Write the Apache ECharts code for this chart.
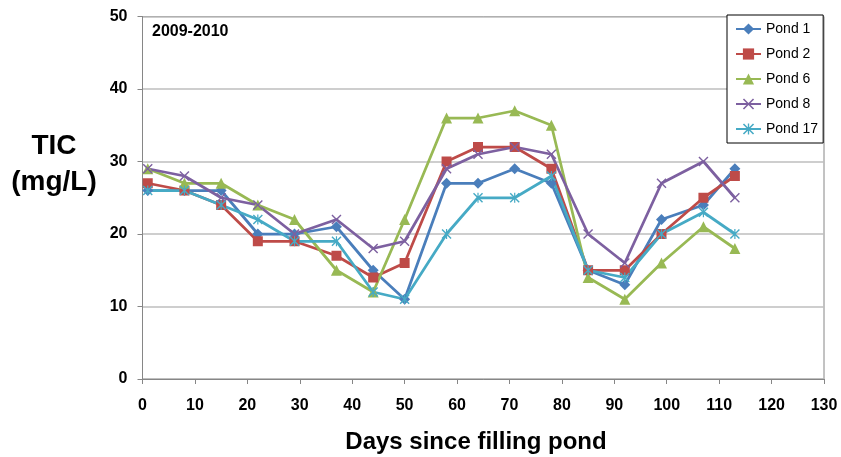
<!DOCTYPE html>
<html>
<head>
<meta charset="utf-8">
<script src="https://cdn.jsdelivr.net/npm/echarts@6/dist/echarts.min.js"></script>
<style>
html,body{margin:0;padding:0;background:#fff;}
#chart{width:841px;height:457px;}
</style>
</head>
<body>
<div id="chart"></div>
<script>
var days = [1, 8, 15, 22, 29, 37, 44, 50, 58, 64, 71, 78, 85, 92, 99, 107, 113];
var pond1  = [26, 26, 26, 20, 20, 21, 15, 11, 27, 27, 29, 27, 15, 13, 22, 24, 29];
var pond2  = [27, 26, 24, 19, 19, 17, 14, 16, 30, 32, 32, 29, 15, 15, 20, 25, 28];
var pond6  = [29, 27, 27, 24, 22, 15, 12, 22, 36, 36, 37, 35, 14, 11, 16, 21, 18];
var pond8  = [29, 28, 25, 24, 20, 22, 18, 19, 29, 31, 32, 31, 20, 16, 27, 30, 25];
var pond17 = [26, 26, 24, 22, 19, 19, 12, 11, 20, 25, 25, 28, 15, 14, 20, 23, 20];
var seriesNames = ['Pond 1', 'Pond 2', 'Pond 6', 'Pond 8', 'Pond 17'];
var yAxisTitle = 'TIC\n(mg/L)';
var xAxisTitle = 'Days since filling pond';
var periodLabel = '2009-2010';

var FONT = '"Liberation Sans", Arial, sans-serif';
var xPath = 'path://M0,1 L1,0 L5,4 L9,0 L10,1 L6,5 L10,9 L9,10 L5,6 L1,10 L0,9 L4,5 Z';
var starPath = 'path://M0,1 L1,0 L5,4 L9,0 L10,1 L6,5 L10,9 L9,10 L5,6 L1,10 L0,9 L4,5 Z M4.4,0 L5.6,0 L5.6,10 L4.4,10 Z';

function pairs(vals) {
  return days.map(function (d, i) { return [d, vals[i]]; });
}
var styles = [
  {color: '#4A7EBB', symbol: 'diamond', size: 11},
  {color: '#BE4B48', symbol: 'rect', size: 10},
  {color: '#98B954', symbol: 'triangle', size: 11},
  {color: '#7D60A0', symbol: xPath, size: 10},
  {color: '#46AAC5', symbol: starPath, size: 10}
];
var allVals = [pond1, pond2, pond6, pond8, pond17];
var series = allVals.map(function (v, i) {
  var s = styles[i];
  return {
    name: seriesNames[i],
    type: 'line',
    data: pairs(v),
    symbol: s.symbol,
    symbolSize: s.size,
    showAllSymbol: true,
    lineStyle: {color: s.color, width: 2.75},
    itemStyle: {color: s.color, borderWidth: 0},
    emphasis: {disabled: true},
    animation: false
  };
});

var chart = echarts.init(document.getElementById('chart'), null, {renderer: 'canvas'});
chart.setOption({
  animation: false,
  backgroundColor: '#fff',
  grid: {
    left: 142.5, right: 17, top: 16.5, bottom: 78,
    show: true, borderColor: '#868686', borderWidth: 1, backgroundColor: 'transparent'
  },
  xAxis: {
    type: 'value', min: 0, max: 130, interval: 10,
    axisLine: {show: true, lineStyle: {color: '#868686', width: 1}},
    axisTick: {show: true, length: 5, lineStyle: {color: '#868686'}},
    splitLine: {show: false},
    axisLabel: {color: '#000', fontFamily: FONT, fontWeight: 'bold', fontSize: 16, margin: 19}
  },
  yAxis: {
    type: 'value', min: 0, max: 50, interval: 10,
    axisLine: {show: true, lineStyle: {color: '#868686', width: 1}},
    axisTick: {show: true, length: 5, lineStyle: {color: '#868686'}},
    splitLine: {show: true, lineStyle: {color: '#BEBEBE', width: 1.5}},
    axisLabel: {color: '#000', fontFamily: FONT, fontWeight: 'bold', fontSize: 16, margin: 15}
  },
  legend: {
    orient: 'vertical',
    left: 727, top: 15,
    padding: [7, 5, 7, 8],
    itemWidth: 25, itemHeight: 14, itemGap: 11,
    borderColor: '#000', borderWidth: 1,
    backgroundColor: '#fff',
    textStyle: {color: '#000', fontFamily: FONT, fontSize: 14},
    data: seriesNames
  },
  graphic: [
    {type: 'text', left: 152, top: 24, style: {text: periodLabel, fill: '#000', font: 'bold 16px ' + FONT}},
    {type: 'text', x: 54, y: 164, style: {text: yAxisTitle, fill: '#000', font: 'bold 28px ' + FONT, textAlign: 'center', textVerticalAlign: 'middle', lineHeight: 36}},
    {type: 'text', x: 476, y: 442, style: {text: xAxisTitle, fill: '#000', font: 'bold 24px ' + FONT, textAlign: 'center', textVerticalAlign: 'middle'}}
  ],
  series: series
});
</script>
</body>
</html>
